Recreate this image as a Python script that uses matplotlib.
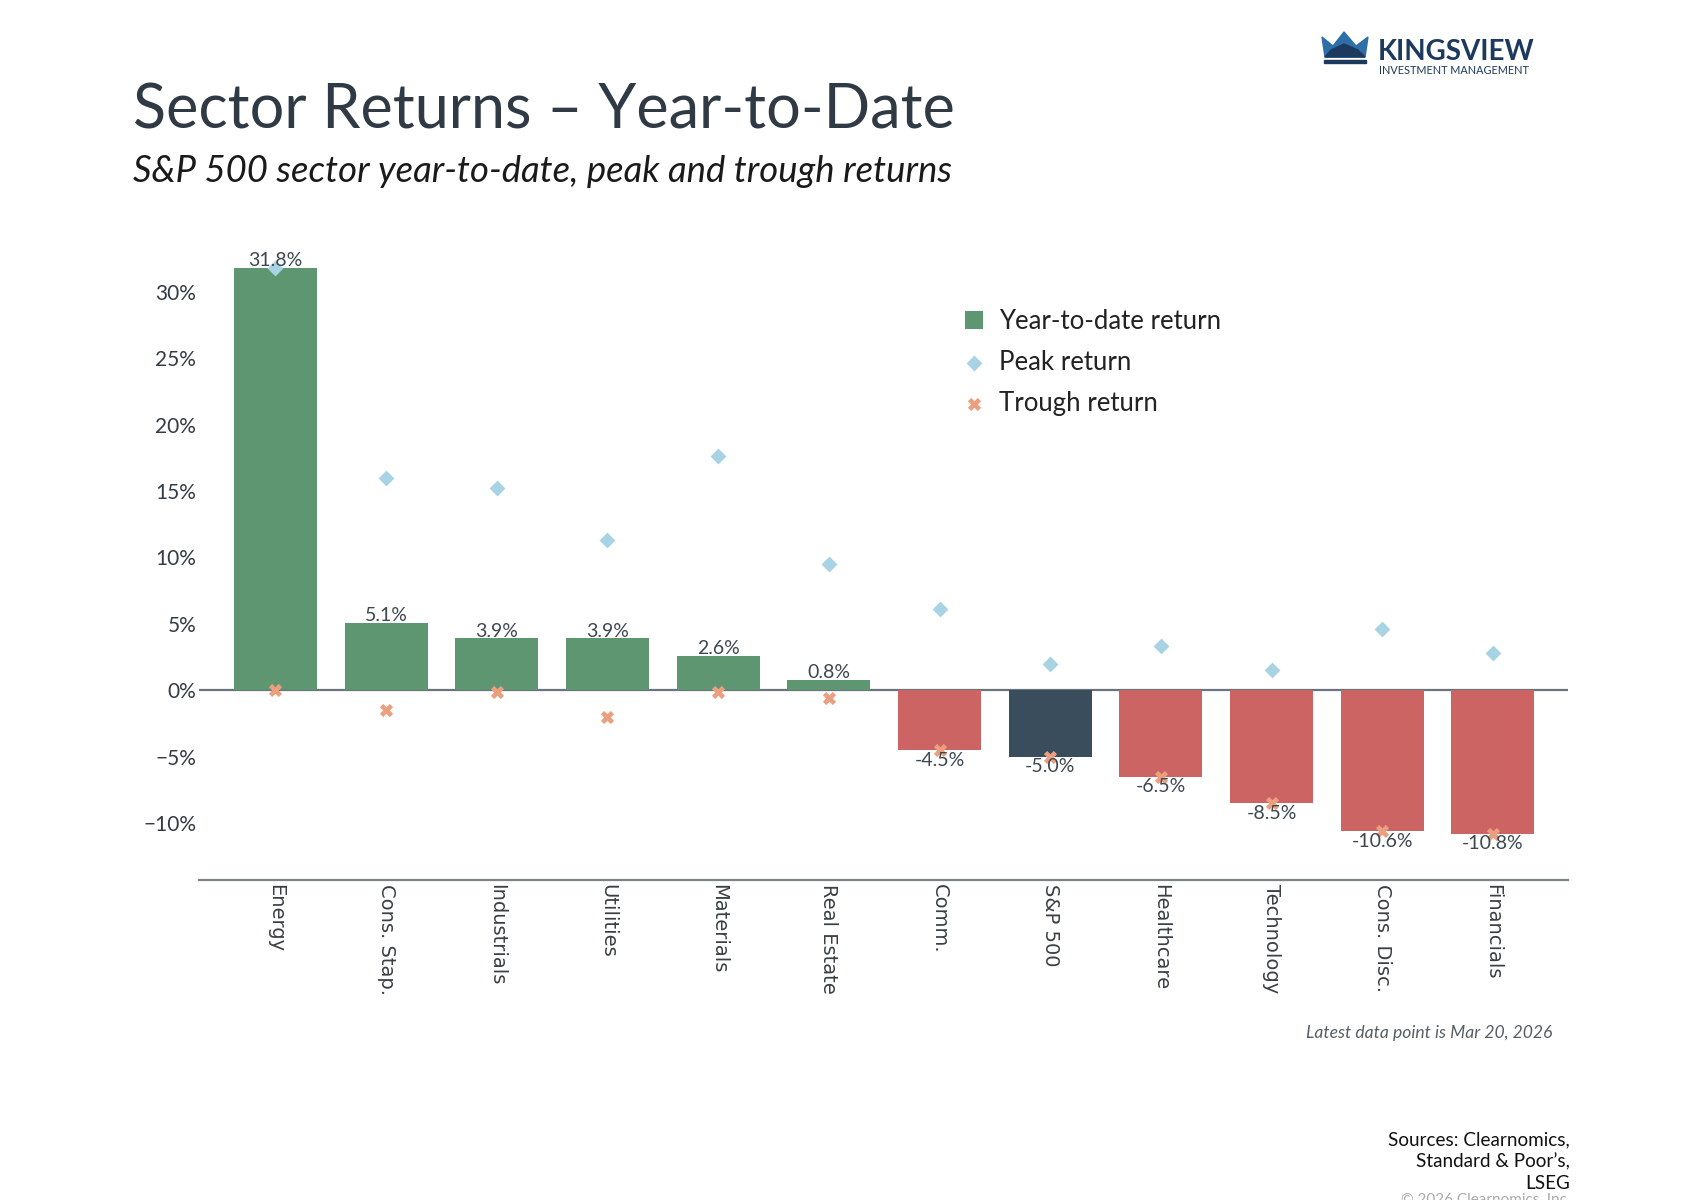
import numpy as np
import matplotlib.pyplot as plt
from matplotlib.patches import Polygon, Rectangle

# data
sectors = ["Energy", "Cons. Stap.", "Industrials", "Utilities", "Materials", "Real Estate",
           "Comm.", "S&P 500", "Healthcare", "Technology", "Cons. Disc.", "Financials"]
ytd = [31.8, 5.1, 3.9, 3.9, 2.6, 0.8, -4.5, -5.0, -6.5, -8.5, -10.6, -10.8]
peak = [31.8, 16.0, 15.2, 11.3, 17.6, 9.5, 6.1, 2.0, 3.3, 1.5, 4.6, 2.8]
trough = [0.0, -1.5, -0.1, -2.0, -0.1, -0.6, -4.5, -5.0, -6.5, -8.5, -10.6, -10.8]

GREEN = "#5f9672"
RED = "#cd6464"
NAVY = "#3a4d5c"
PEAK_C = "#a8d3e4"
TROUGH_C = "#ec9f7e"

plt.rcParams["font.family"] = ["Lato", "DejaVu Sans"]

fig = plt.figure(figsize=(17.04, 12), dpi=100)
ax = fig.add_axes([0.1168, 0.2668, 0.8035, 0.5245])

x = np.arange(len(sectors))
colors = []
for s, v in zip(sectors, ytd):
    if s == "S&P 500":
        colors.append(NAVY)
    elif v >= 0:
        colors.append(GREEN)
    else:
        colors.append(RED)

bars = ax.bar(x, ytd, width=0.75, color=colors, zorder=2, label="Year-to-date return")
pk = ax.scatter(x, peak, marker="D", s=65, color=PEAK_C, zorder=3, label="Peak return", linewidths=0)
tr = ax.scatter(x, trough, marker="X", s=90, color=TROUGH_C, zorder=3, label="Trough return", linewidths=0)

ax.axhline(0, color="#6c747b", lw=1.6, zorder=1)

for xi, v in zip(x, ytd):
    if v >= 0:
        ax.annotate(f"{v:.1f}%", (xi, v), xytext=(0, -1), textcoords="offset points",
                    ha="center", va="bottom", fontsize=14, color="#3d4750", zorder=4)
    else:
        ax.annotate(f"{v:.1f}%", (xi, v), xytext=(0, -1), textcoords="offset points",
                    ha="center", va="top", fontsize=14, color="#3d4750", zorder=4)

ax.set_xlim(-0.69, 11.68)
ax.set_ylim(-14.26, 33.1)
ax.set_yticks(np.arange(-10, 31, 5))
ax.set_yticklabels([f"{t}%".replace("-", "\u2212") for t in range(-10, 31, 5)],
                   fontsize=15, color="#333c44")
ax.set_xticks(x)
ax.set_xticklabels(sectors, rotation=270, ha="center", va="top")
for lab in ax.get_xticklabels():
    lab.set_fontfamily("DejaVu Sans")
    lab.set_fontsize(14)
    lab.set_color("#3a3f44")
ax.tick_params(axis="both", length=0)
ax.tick_params(axis="x", pad=3)
ax.tick_params(axis="y", pad=2)
for sp in ["top", "right", "left"]:
    ax.spines[sp].set_visible(False)
ax.spines["bottom"].set_color("#7b8288")
ax.spines["bottom"].set_linewidth(1.6)

leg = ax.legend(handles=[bars, pk, tr], loc="upper left", bbox_to_anchor=(0.553, 0.762),
                bbox_transform=fig.transFigure, frameon=False, fontsize=18.5,
                handlelength=0.7, handleheight=0.7, handletextpad=0.6, labelspacing=0.62)
for t in leg.get_texts():
    t.set_color("#222222")

# titles
fig.text(0.078, 0.893, "Sector Returns \u2013 Year-to-Date", fontsize=44, color="#2f3a44",
         ha="left", va="baseline")
fig.text(0.078, 0.848, "S&P 500 sector year-to-date, peak and trough returns", fontsize=26.3,
         style="italic", color="#1a1a1a", ha="left", va="baseline")

fig.text(0.911, 0.139, "Latest data point is Mar 20, 2026", fontsize=12.6, style="italic",
         color="#555e66", ha="right", va="center")
fig.text(0.9215, 0.032, "Sources: Clearnomics,\nStandard & Poor\u2019s,\nLSEG", fontsize=13.6,
         color="#111111", ha="right", va="center", linespacing=1.35, multialignment="right")
fig.text(0.9215, 0.0, "\u00a9 2026 Clearnomics, Inc.", fontsize=11, color="#aaaaaa",
         ha="right", va="center")

# logo
W, H = 1704.0, 1200.0
def fp(pts):
    return [(px / W, 1 - py / H) for px, py in pts]

crown = fp([(1322, 37), (1333, 46), (1344, 32), (1356, 46), (1368, 37), (1365, 57), (1325, 57)])
fig.add_artist(Polygon(crown, closed=True, transform=fig.transFigure, color="#2f6fa8"))
lower = fp([(1325, 57), (1331, 50), (1344, 44), (1358, 50), (1365, 57)])
fig.add_artist(Polygon(lower, closed=True, transform=fig.transFigure, color="#1d3a5e"))
fig.add_artist(Rectangle((1324 / W, 1 - 63 / H), 42 / W, 3 / H, transform=fig.transFigure,
                         color="#1d3a5e"))
fig.text(1378 / W, 1 - 52 / H, "KINGSVIEW", fontsize=20, weight="bold", color="#1d3a5e",
         ha="left", va="center")
fig.text(1379 / W, 1 - 71 / H, "INVESTMENT MANAGEMENT", fontsize=7.8, color="#1d3a5e",
         ha="left", va="center")

fig.savefig("out.png", dpi=100)
